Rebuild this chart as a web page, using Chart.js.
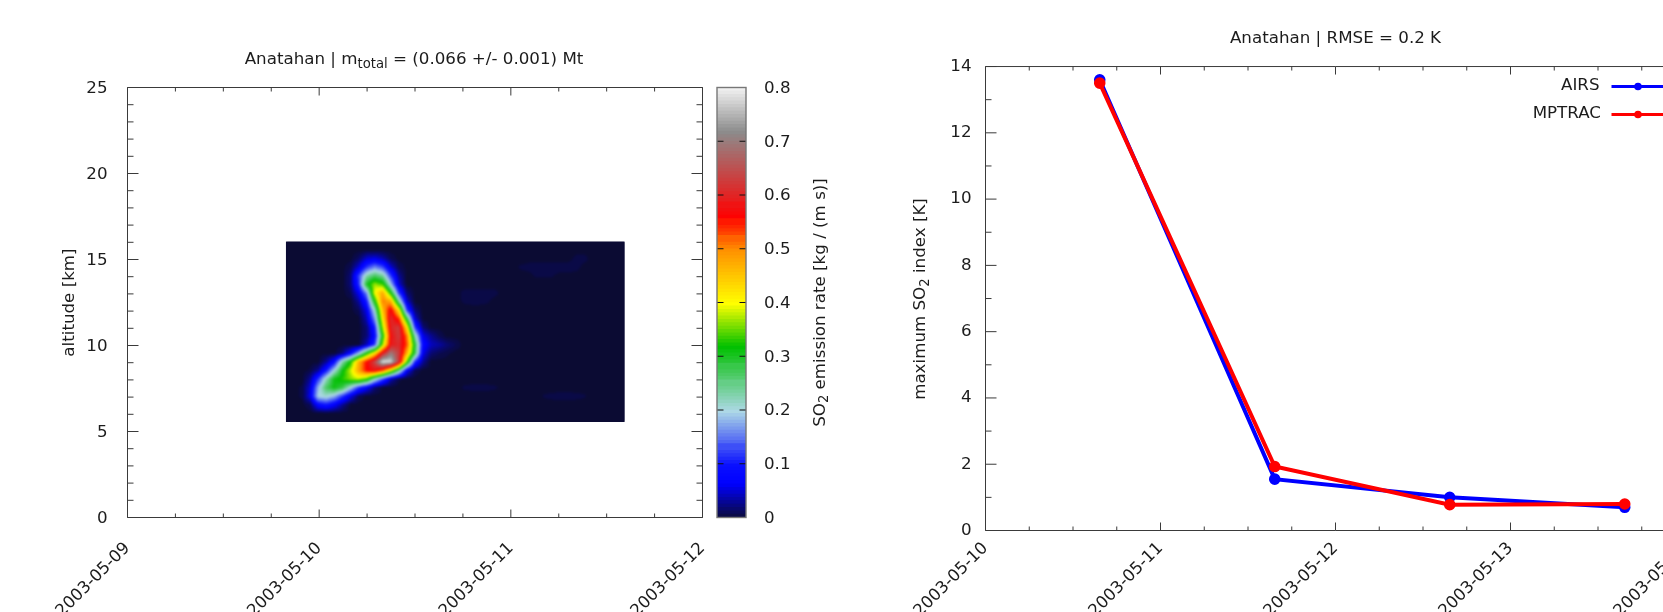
<!DOCTYPE html>
<html><head><meta charset="utf-8">
<script src="https://cdn.jsdelivr.net/npm/chart.js@4"></script>
<style>
html,body{margin:0;padding:0;background:#fff;width:1663px;height:612px;overflow:hidden}
canvas{position:absolute;top:0}
#wrap{position:absolute;left:0;top:0;width:1663px;height:612px;overflow:hidden}
</style></head><body>
<div id="wrap">
<div style="position:absolute;left:0;top:0;width:720px;height:612px"><canvas id="heat"></canvas></div>
<div style="position:absolute;left:710px;top:0;width:140px;height:612px"><canvas id="cbar"></canvas></div>
<div style="position:absolute;left:850px;top:0;width:900px;height:612px"><canvas id="line"></canvas></div>
</div>
<script>
// ---------- data ----------
const heatTitle = ['Anatahan | m', 'total', ' = (0.066 +/- 0.001) Mt'];
const heatXLabels = ['2003-05-09', '2003-05-10', '2003-05-11', '2003-05-12'];
const heatYLabels = [0, 5, 10, 15, 20, 25];
const cbarLabels = [0, 0.1, 0.2, 0.3, 0.4, 0.5, 0.6, 0.7, 0.8];
const lineXLabels = ['2003-05-10', '2003-05-11', '2003-05-12', '2003-05-13', '2003-05-14'];
const lineYLabels = [0, 2, 4, 6, 8, 10, 12, 14];
const obsTimes = ['2003-05-10T15:40Z', '2003-05-11T15:40Z', '2003-05-12T15:40Z', '2003-05-13T15:40Z'];
const airsIndex = [13.6, 1.55, 1.0, 0.7];
const mptracIndex = [13.5, 1.93, 0.78, 0.8];
// emission grid: one row per altitude (top to bottom), one column per time step
const gridStart = '2003-05-09T19:50Z';
const gridStepMinutes = 60.6;
const gridColumns = 43;
const gridAltitudes = [16.05,15.55,15.05,14.55,14.05,13.55,13.05,12.55,12.05,11.55,11.05,10.55,10.05,9.55,9.05,8.55,8.05,7.55,7.05,6.55,6.05,5.55];
const gridRates = [
[0,0,0,0,0,0,0,0,0,0,0,0,0,0,0,0,0,0,0,0,0,0,0,0,0,0,0,0,0,0,0,0,0,0,0,0,0,0,0,0,0,0,0],
[0,0,0,0,0,0,0,0,0,0,0,0,0,0,0,0,0,0,0,0,0,0,0,0,0,0,0,0,0,0,0,0,0,0,0,0,0,0,0,0,0,0,0],
[0,0,0,0,0,0,0,0,0,.015,.05,.06,.04,.01,0,0,0,0,0,0,0,0,0,0,0,0,0,0,0,0,0,0,0,0,0,0,.006,.006,0,0,0,0,0],
[0,0,0,0,0,0,0,0,.01,.05,.12,.16,.13,.05,.01,0,0,0,0,0,0,0,0,0,0,0,0,0,0,.004,.006,.008,.008,.008,.008,.008,.006,0,0,0,0,0,0],
[0,0,0,0,0,0,0,0,.02,.12,.23,.27,.24,.12,.03,0,0,0,0,0,0,0,0,0,0,0,0,0,0,0,0,.004,.004,.004,0,0,0,0,0,0,0,0,0],
[0,0,0,0,0,0,0,0,.02,.11,.3,.37,.34,.19,.05,0,0,0,0,0,0,0,0,0,0,0,0,0,0,0,0,0,0,0,0,0,0,0,0,0,0,0,0],
[0,0,0,0,0,0,0,0,.01,.06,.16,.4,.48,.32,.12,.02,0,0,0,0,0,0,.005,.006,.006,.006,.005,0,0,0,0,0,0,0,0,0,0,0,0,0,0,0,0],
[0,0,0,0,0,0,0,0,0,.03,.1,.31,.51,.48,.24,.05,0,0,0,0,0,0,.004,.005,.005,.004,0,0,0,0,0,0,0,0,0,0,0,0,0,0,0,0,0],
[0,0,0,0,0,0,0,0,0,.01,.06,.21,.46,.58,.43,.12,.02,0,0,0,0,0,0,0,0,0,0,0,0,0,0,0,0,0,0,0,0,0,0,0,0,0,0],
[0,0,0,0,0,0,0,0,0,0,.04,.16,.42,.61,.54,.29,.05,0,0,0,0,0,0,0,0,0,0,0,0,0,0,0,0,0,0,0,0,0,0,0,0,0,0],
[0,0,0,0,0,0,0,0,0,0,.02,.1,.37,.6,.63,.43,.12,.02,0,0,0,0,0,0,0,0,0,0,0,0,0,0,0,0,0,0,0,0,0,0,0,0,0],
[0,0,0,0,0,0,0,0,0,0,.02,.08,.31,.58,.63,.51,.23,.06,.03,.01,0,0,0,0,0,0,0,0,0,0,0,0,0,0,0,0,0,0,0,0,0,0,0],
[0,0,0,0,0,0,0,0,0,0,.04,.12,.37,.59,.61,.53,.29,.08,.045,.035,.02,.01,0,0,0,0,0,0,0,0,0,0,0,0,0,0,0,0,0,0,0,0,0],
[0,0,0,0,0,0,0,.02,.08,.18,.31,.43,.6,.7,.63,.47,.28,.06,.02,.01,.005,0,0,0,0,0,0,0,0,0,0,0,0,0,0,0,0,0,0,0,0,0,0],
[0,0,0,0,0,.03,.09,.23,.32,.47,.56,.64,.79,.78,.62,.35,.11,.03,0,0,0,0,0,0,0,0,0,0,0,0,0,0,0,0,0,0,0,0,0,0,0,0,0],
[0,0,0,.005,.03,.1,.2,.31,.38,.48,.56,.58,.52,.4,.25,.07,.01,0,0,0,0,0,0,0,0,0,0,0,0,0,0,0,0,0,0,0,0,0,0,0,0,0,0],
[0,0,0,.03,.12,.22,.31,.33,.36,.38,.34,.22,.13,.04,.005,0,0,0,0,0,0,0,0,0,0,0,0,0,0,0,0,0,0,0,0,0,0,0,0,0,0,0,0],
[0,0,.005,.05,.18,.27,.31,.28,.2,.12,.07,.02,0,0,0,0,0,0,0,0,0,0,.004,.005,.005,.005,.004,0,0,0,0,0,0,0,0,0,0,0,0,0,0,0,0],
[0,0,.005,.06,.2,.21,.18,.12,.06,.01,0,0,0,0,0,0,0,0,0,0,0,0,0,0,0,0,0,0,0,0,0,0,.004,.005,.006,.006,.005,.004,0,0,0,0,0],
[0,0,0,.01,.08,.1,.07,.03,0,0,0,0,0,0,0,0,0,0,0,0,0,0,0,0,0,0,0,0,0,0,0,0,0,0,0,0,0,0,0,0,0,0,0],
[0,0,0,0,0,0,0,0,0,0,0,0,0,0,0,0,0,0,0,0,0,0,0,0,0,0,0,0,0,0,0,0,0,0,0,0,0,0,0,0,0,0,0],
[0,0,0,0,0,0,0,0,0,0,0,0,0,0,0,0,0,0,0,0,0,0,0,0,0,0,0,0,0,0,0,0,0,0,0,0,0,0,0,0,0,0,0]
];
// colour palette stops [rate, r, g, b]
const paletteStops = [[0,11,11,51],[.065,0,0,255],[.1,10,16,255],[.2,173,216,230],[.32,0,192,0],[.4,255,255,0],[.5,255,144,0],[.56,255,0,0],[.72,140,140,140],[.8,240,240,240]];

// ---------- helpers ----------
const FONT = '"DejaVu Sans"';
const FS = 16.7, SUBFS = 13.2, INK = '#1c1c1c', AXIS = '#3a3a3a', LEVELS = 128;
const DAY = 86400000;
Chart.defaults.font.family = FONT;
Chart.defaults.font.size = FS;
Chart.defaults.color = INK;
Chart.defaults.animation = false;
Chart.defaults.responsive = false;

function palette(v){
  const n = LEVELS, q = Math.min(.8, Math.max(0, Math.round(v/.8*n)/n*.8));
  for(let i=1;i<paletteStops.length;i++){
    const a=paletteStops[i-1], b=paletteStops[i];
    if(q<=b[0]){const f=(q-a[0])/(b[0]-a[0]); return [a[1]+f*(b[1]-a[1]),a[2]+f*(b[2]-a[2]),a[3]+f*(b[3]-a[3])];}
  }
  return paletteStops[paletteStops.length-1].slice(1);
}
const fmtDate = v => new Date(v).toISOString().slice(0,10);

function drawRich(ctx, spec){
  ctx.save();
  ctx.fillStyle = INK; ctx.textBaseline='middle'; ctx.textAlign='left';
  const main = FS+'px '+FONT, sub = SUBFS+'px '+FONT;
  let w=0;
  spec.parts.forEach(p=>{ctx.font=p.sub?sub:main; p.w=ctx.measureText(p.t).width; w+=p.w;});
  ctx.translate(spec.x,spec.y); if(spec.rot) ctx.rotate(spec.rot);
  let x=-w/2;
  spec.parts.forEach(p=>{ctx.font=p.sub?sub:main; ctx.fillText(p.t,x,p.sub?4.5:0); x+=p.w;});
  ctx.restore();
}
const richText = {id:'richText', afterDraw(chart,_,o){ (o.items||[]).forEach(s=>drawRich(chart.ctx,s)); }};

// frame with inward major and minor ticks on all four sides, placed through the scales
const frameTicks = {id:'frameTicks', afterDatasetsDraw(chart,_,o){
  const {ctx,chartArea:a,scales:{x,y}}=chart;
  ctx.save(); ctx.strokeStyle=o.color||AXIS; ctx.lineWidth=1; ctx.beginPath();
  const seg=(x1,y1,x2,y2)=>{ctx.moveTo(x1,y1);ctx.lineTo(x2,y2);};
  for(let v=x.min; v<=x.max+1; v+=o.xMinor){
    const p=x.getPixelForValue(v), major=((v-x.min)%DAY)===0, l=major?8:4;
    seg(p,a.bottom,p,a.bottom-l); seg(p,a.top,p,a.top+l);
  }
  for(let i=0,v=y.min; v<=y.max+1e-9; i++,v=y.min+i*o.yMinor){
    const p=y.getPixelForValue(v), major=(i%o.yPer)===0, l=major?11:6;
    seg(a.left,p,a.left+l,p); seg(a.right,p,a.right-l,p);
  }
  ctx.moveTo(a.left,a.top);ctx.lineTo(a.right,a.top);ctx.lineTo(a.right,a.bottom);ctx.lineTo(a.left,a.bottom);ctx.closePath();
  ctx.stroke(); ctx.restore();
}};

// smooth surface of the emission grid, positioned through the chart scales
const STEP = gridStepMinutes*60000;
const surface = {id:'surface', beforeDatasetsDraw(chart){
  const {ctx,scales:{x,y}}=chart;
  const t0=Date.parse(gridStart);
  const xl=x.getPixelForValue(t0), xr=x.getPixelForValue(t0+(gridColumns-1)*STEP);
  const yt=y.getPixelForValue(gridAltitudes[0]), yb=y.getPixelForValue(gridAltitudes[gridAltitudes.length-1]);
  const W=Math.round(xr-xl), H=Math.round(yb-yt);
  const off=document.createElement('canvas'); off.width=W; off.height=H;
  const oc=off.getContext('2d'), img=oc.createImageData(W,H);
  const R=gridRates.length-1, C=gridColumns-1;
  for(let j=0;j<H;j++){
    const fy=(j+.5)/H*R, r0=Math.min(R-1,Math.floor(fy)), ty=fy-r0;
    for(let i=0;i<W;i++){
      const fx=(i+.5)/W*C, c0=Math.min(C-1,Math.floor(fx)), tx=fx-c0;
      const v=(gridRates[r0][c0]*(1-tx)+gridRates[r0][c0+1]*tx)*(1-ty)+(gridRates[r0+1][c0]*(1-tx)+gridRates[r0+1][c0+1]*tx)*ty;
      const c=palette(v), k=(j*W+i)*4;
      img.data[k]=c[0];img.data[k+1]=c[1];img.data[k+2]=c[2];img.data[k+3]=255;
    }
  }
  oc.putImageData(img,0,0);
  ctx.save(); ctx.imageSmoothingEnabled=true;
  ctx.beginPath(); ctx.rect(xl,yt,xr-xl,yb-yt); ctx.clip();
  const c0=palette(0); ctx.fillStyle='rgb('+c0.join(',')+')'; ctx.fillRect(xl,yt,xr-xl,yb-yt);
  ctx.filter='blur(0.8px)';
  ctx.drawImage(off,xl,yt,xr-xl,yb-yt);
  ctx.restore();
}};

const heatCells = [];
gridRates.forEach((row,r)=>row.forEach((v,c)=>heatCells.push({x:Date.parse(gridStart)+c*STEP,y:gridAltitudes[r],v})));

function fixedDate(labels,h,pad){return {
  type:'linear', min:Date.parse(labels[0]), max:Date.parse(labels[labels.length-1]),
  afterBuildTicks(s){s.ticks=labels.map(d=>({value:Date.parse(d)}));},
  afterFit(s){s.height=h;s.paddingLeft=0;s.paddingRight=0;},
  grid:{display:false,drawTicks:false}, border:{display:false},
  ticks:{autoSkip:false,minRotation:45,maxRotation:45,padding:pad,callback:fmtDate}
};}

// ---------- left panel ----------
const cHeat=document.getElementById('heat'); cHeat.width=720; cHeat.height=612;
new Chart(cHeat,{
  type:'scatter',
  data:{datasets:[{label:'SO2 emission rate',data:heatCells,pointRadius:0,showLine:false}]},
  options:{
    layout:{autoPadding:false,padding:{top:87.5,right:17.5,left:0,bottom:0}},
    plugins:{legend:{display:false},tooltip:{enabled:false},
      frameTicks:{xMinor:DAY/4,yMinor:1,yPer:5},
      richText:{items:[{x:414,y:60,parts:[{t:heatTitle[0]},{t:heatTitle[1],sub:true},{t:heatTitle[2]}]}]}},
    scales:{
      x:fixedDate(heatXLabels,94.5,21),
      y:{type:'linear',min:0,max:25,
        afterBuildTicks(s){s.ticks=heatYLabels.map(v=>({value:v}));},
        afterFit(s){s.width=127.5;s.paddingTop=0;s.paddingBottom=0;},
        grid:{display:false,drawTicks:false},border:{display:false},ticks:{padding:20,labelOffset:1},
        title:{display:true,text:'altitude [km]',padding:{top:59.5,bottom:0},font:{size:FS}}}
    }
  },
  plugins:[surface,frameTicks,richText]
});

// ---------- colour bar ----------
const levels=[]; for(let i=0;i<LEVELS;i++) levels.push(i);
const cBar=document.getElementById('cbar'); cBar.width=140; cBar.height=612;
new Chart(cBar,{
  type:'bar',
  data:{labels:['rate'],datasets:levels.map(i=>{const c=palette((i+.5)/LEVELS*.8);
    return {data:[(i+1)/LEVELS*.8],backgroundColor:'rgb('+c.map(Math.round).join(',')+')',barPercentage:1,categoryPercentage:1,borderWidth:0};})},
  options:{
    layout:{autoPadding:false,padding:{top:87.5,left:7,right:0,bottom:94.5}},
    plugins:{legend:{display:false},tooltip:{enabled:false},
      richText:{items:[{x:110.5,y:302.5,rot:-Math.PI/2,parts:[{t:'SO'},{t:'2',sub:true},{t:' emission rate [kg / (m s)]'}]}]}},
    scales:{
      x:{display:false,stacked:true},
      y:{position:'right',min:0,max:.8,
        afterBuildTicks(s){s.ticks=cbarLabels.map(v=>({value:v}));},
        afterFit(s){s.width=104;s.paddingTop=0;s.paddingBottom=0;},
        grid:{display:false,drawTicks:false},border:{display:false},ticks:{padding:18,labelOffset:1,callback:v=>v===0?'0':v.toFixed(1)}}
    }
  },
  plugins:[{id:'cbarFrame',afterDatasetsDraw(chart){
    const {ctx,chartArea:a,scales:{y}}=chart; ctx.save();
    ctx.strokeStyle='#111'; ctx.lineWidth=1; ctx.beginPath();
    cbarLabels.forEach(v=>{const p=y.getPixelForValue(v);ctx.moveTo(a.left,p);ctx.lineTo(a.left+6.5,p);ctx.moveTo(a.right,p);ctx.lineTo(a.right-6.5,p);});
    ctx.stroke(); ctx.strokeStyle='#777'; ctx.lineWidth=1.4; ctx.strokeRect(a.left,a.top,a.right-a.left,a.bottom-a.top); ctx.restore();
  }},richText]
});

// ---------- right panel ----------
const cLine=document.getElementById('line'); cLine.width=900; cLine.height=612;
const lineLegend={id:'lineLegend',afterDatasetsDraw(chart){
  const {ctx}=chart; ctx.save(); ctx.font=FS+'px '+FONT; ctx.textAlign='right'; ctx.textBaseline='middle';
  chart.data.datasets.forEach((d,i)=>{
    const yp=86+28*i; ctx.fillStyle=INK; ctx.fillText(d.label,749.5+i*1.5,yp);
    ctx.strokeStyle=d.borderColor; ctx.fillStyle=d.borderColor; ctx.lineWidth=3;
    ctx.beginPath();ctx.moveTo(761.5,yp+.5);ctx.lineTo(814,yp+.5);ctx.stroke();
    ctx.beginPath();ctx.arc(788,yp+.5,3.8,0,Math.PI*2);ctx.fill();
  });
  ctx.restore();
}};
new Chart(cLine,{
  type:'line',
  data:{datasets:[
    {label:'AIRS',data:obsTimes.map((t,i)=>({x:Date.parse(t),y:airsIndex[i]})),borderColor:'#0000ff',backgroundColor:'#0000ff',borderWidth:4,pointRadius:3.8,tension:0},
    {label:'MPTRAC',data:obsTimes.map((t,i)=>({x:Date.parse(t),y:mptracIndex[i]})),borderColor:'#ff0000',backgroundColor:'#ff0000',borderWidth:4,pointRadius:3.8,tension:0,order:-1}
  ]},
  options:{
    layout:{autoPadding:false,padding:{top:0,right:64.5,left:0,bottom:0}},
    plugins:{legend:{display:false},tooltip:{enabled:false},
      title:{display:true,fullSize:false,text:'Anatahan | RMSE = 0.2 K',color:INK,font:{size:FS,weight:'normal'},padding:{top:28.5,bottom:18}},
      frameTicks:{xMinor:DAY/4,yMinor:1,yPer:2},
      richText:{items:[{x:70.6,y:299,rot:-Math.PI/2,parts:[{t:'maximum SO'},{t:'2',sub:true},{t:' index [K]'}]}]}},
    scales:{
      x:fixedDate(lineXLabels,81.5,8),
      y:{type:'linear',min:0,max:14,
        afterBuildTicks(s){s.ticks=lineYLabels.map(v=>({value:v}));},
        afterFit(s){s.width=135.5;s.paddingTop=0;s.paddingBottom=0;},
        grid:{display:false,drawTicks:false},border:{display:false},ticks:{padding:14}}
    }
  },
  plugins:[frameTicks,lineLegend,richText]
});
</script>
</body></html>
